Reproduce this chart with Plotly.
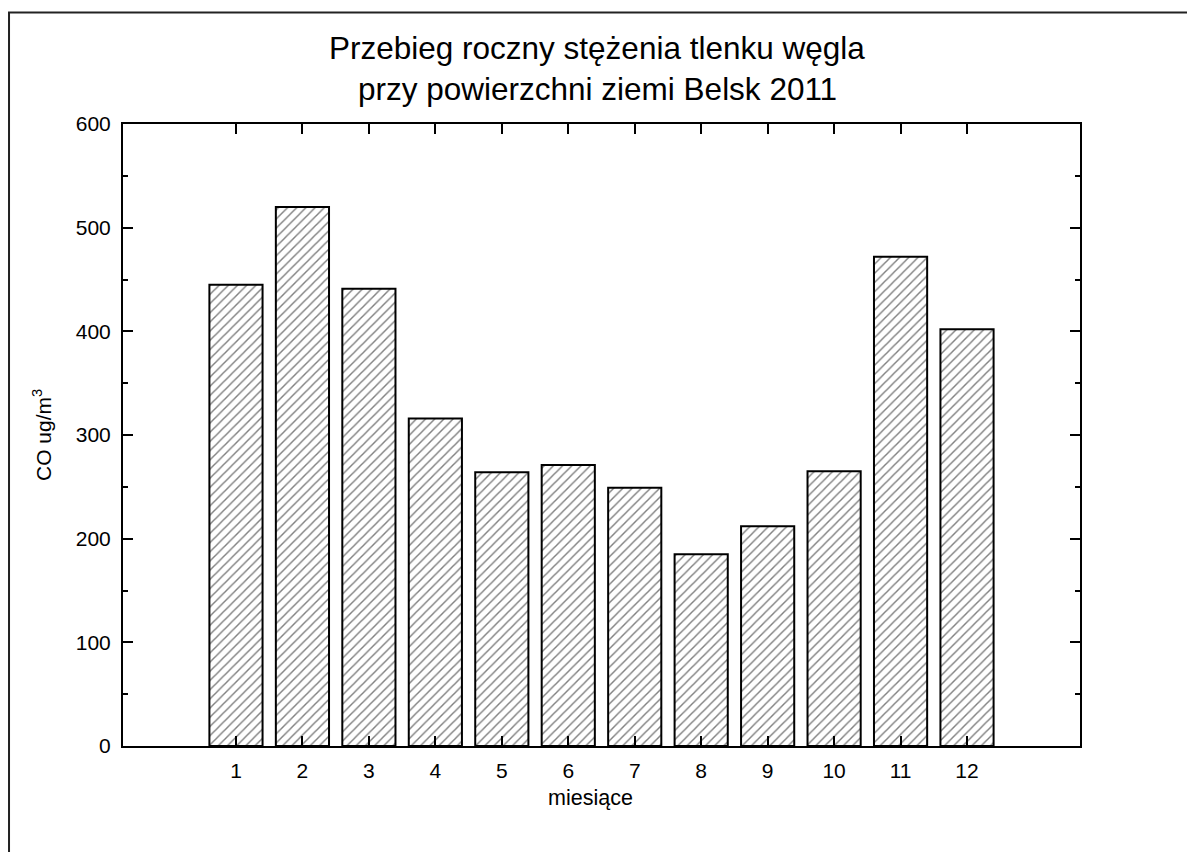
import plotly.graph_objects as go

months = list(range(1, 13))
month_labels = [str(m) for m in months]
co_values = [445, 520, 441, 316, 264, 271, 249, 185, 212, 265, 472, 402]
y_ticks = [0, 100, 200, 300, 400, 500, 600]

title_line1 = "Przebieg roczny stężenia tlenku węgla"
title_line2 = "przy powierzchni ziemi Belsk 2011"
x_title = "miesiące"
y_title = "CO ug/m<sup>3</sup>"

FONT = "Arial, Liberation Sans, sans-serif"

fig = go.Figure()
fig.add_trace(go.Bar(
    x=months,
    y=co_values,
    width=0.8,
    marker=dict(
        color="white",
        line=dict(color="black", width=2),
        pattern=dict(shape="/", fgcolor="black", bgcolor="white", size=6.5, solidity=0.22),
    ),
    showlegend=False,
))

axis_common = dict(
    showline=True, linecolor="black", linewidth=2, mirror="ticks",
    ticks="inside", tickcolor="black", tickwidth=1.5, ticklen=10,
    showgrid=False, zeroline=False,
    tickfont=dict(family=FONT, size=21, color="black"),
)

fig.update_xaxes(
    range=[-0.7, 13.7],
    tickvals=months, ticktext=month_labels,
    ticklabelstandoff=5,
    **axis_common,
)
fig.update_yaxes(
    range=[0, 600],
    tickvals=y_ticks,
    ticklabelstandoff=6,
    minor=dict(ticks="inside", dtick=50, ticklen=5, tickcolor="black", tickwidth=1.5),
    **axis_common,
)

fig.update_layout(
    width=1195, height=852,
    margin=dict(l=115, r=123, t=116, b=114.3),
    paper_bgcolor="white", plot_bgcolor="white",
    font=dict(family=FONT, color="black"),
    bargap=0.2,
)

annotations = [
    dict(text=title_line1, x=0.4958, y=1.1214, font=dict(size=31.5)),
    dict(text=title_line2, x=0.4958, y=1.0563, font=dict(size=31.5)),
    dict(text=x_title, x=0.488, y=-0.0841, font=dict(size=21.5)),
    dict(text=y_title, x=-0.0846, y=0.5, font=dict(size=21), textangle=-90),
]
for a in annotations:
    fig.add_annotation(xref="paper", yref="paper", showarrow=False,
                       xanchor="center", yanchor="middle", **a)

fig.add_shape(type="rect", xref="paper", yref="paper",
              x0=-0.1191, x1=1.25, y0=-0.3, y1=1.1794,
              line=dict(color="#222", width=2), fillcolor="rgba(0,0,0,0)", layer="below")

fig.write_html("out.html")
